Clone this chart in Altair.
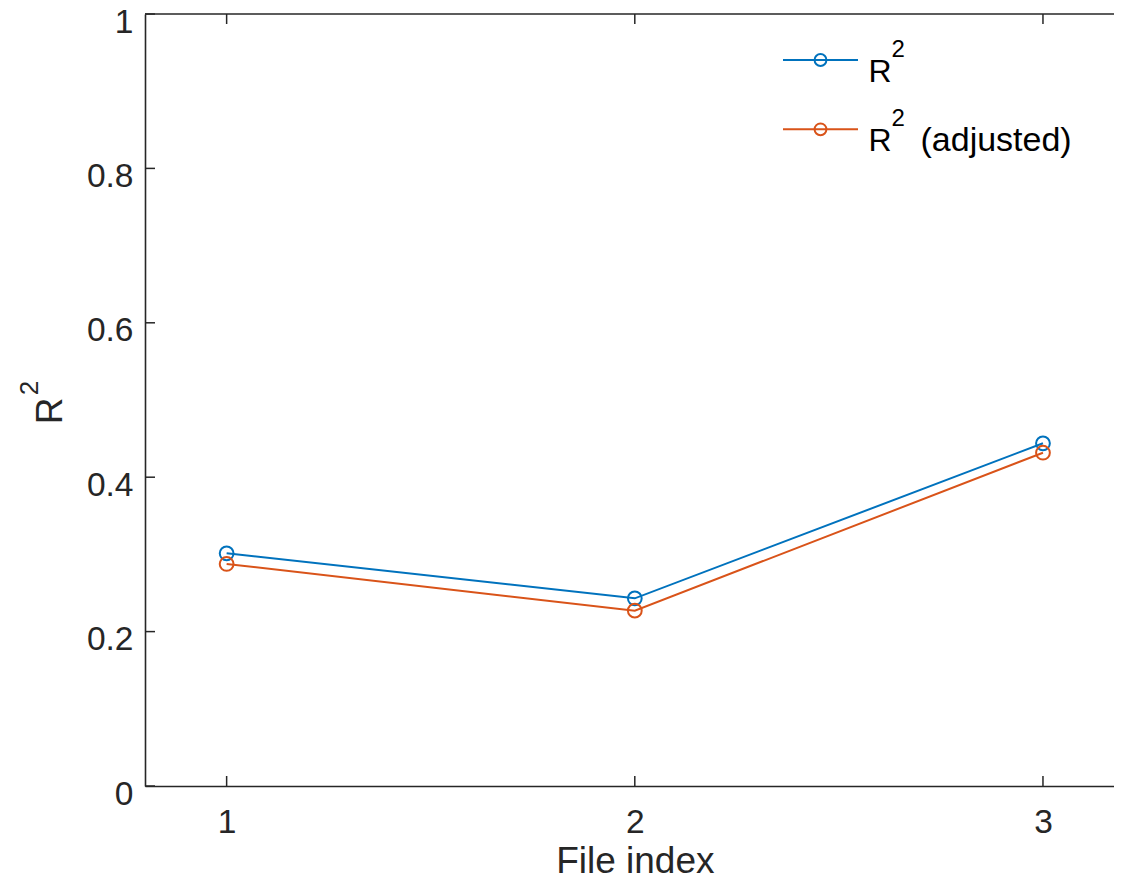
import altair as alt
import pandas as pd

# ---- data ----
file_index = [1, 2, 3]
r2_values = [0.3014, 0.2431, 0.4439]
r2_adj_values = [0.2876, 0.2271, 0.4317]
series_names = ["R2", "R2 (adjusted)"]
series_colors = ["#0072BD", "#D95319"]
x_ticks = [1, 2, 3]
y_ticks = [0, 0.2, 0.4, 0.6, 0.8, 1]

# ---- styling ----
W = 969
H = 772
XR = 979.6
FONT = "Liberation Sans"
INK = "#262626"
TICK = 10

df = pd.DataFrame({
    "file": file_index * 2,
    "value": r2_values + r2_adj_values,
    "series": [series_names[0]] * len(file_index) + [series_names[1]] * len(file_index),
})
xt = pd.DataFrame({"file": x_ticks})
yt = pd.DataFrame({"value": y_ticks})
one = pd.DataFrame({"k": [0]})

xscale = alt.Scale(domain=[0.8, 3.2], range=[0, XR], nice=False, zero=False)
yscale = alt.Scale(domain=[0, 1], nice=False, zero=False)

x_enc = alt.X("file:Q", scale=xscale,
              axis=alt.Axis(values=x_ticks, format="d", title="File index",
                            labelPadding=20.5, titlePadding=4))
y_enc = alt.Y("value:Q", scale=yscale,
              axis=alt.Axis(values=y_ticks, format=".1~f", title=None,
                            labelPadding=12, labelOffset=8))
color = alt.Color("series:N", scale=alt.Scale(domain=series_names, range=series_colors), legend=None)

lines = alt.Chart(df).mark_line(strokeWidth=2).encode(x=x_enc, y=y_enc, color=color)
points = alt.Chart(df).mark_point(shape="circle", filled=False, size=190, strokeWidth=2, opacity=1).encode(
    x=x_enc, y=y_enc, color=color)

tick_style = dict(color=INK, strokeWidth=1.5)
bottom_ticks = alt.Chart(xt).mark_rule(**tick_style).encode(x=x_enc, y=alt.value(H), y2=alt.value(H - TICK))
top_ticks = alt.Chart(xt).mark_rule(**tick_style).encode(x=x_enc, y=alt.value(0), y2=alt.value(TICK))
left_ticks = alt.Chart(yt).mark_rule(**tick_style).encode(y=y_enc, x=alt.value(0), x2=alt.value(TICK))
top_border = alt.Chart(one).mark_rule(color=INK, strokeWidth=1.6).encode(
    x=alt.value(0), x2=alt.value(XR), y=alt.value(0))

# ---- y-axis title R^2 (rotated) ----
ytitle_r = alt.Chart(one).mark_text(text="R", font=FONT, fontSize=37, color=INK, angle=270,
                                    align="center", baseline="alphabetic").encode(
    x=alt.value(-83), y=alt.value(397))
ytitle_2 = alt.Chart(one).mark_text(text="2", font=FONT, fontSize=26, color=INK, angle=270,
                                    align="center", baseline="alphabetic").encode(
    x=alt.value(-107), y=alt.value(374))

# ---- legend ----
leg_layers = []
rows = [(46, series_colors[0], ""), (115.3, series_colors[1], "(adjusted)")]
for ry, col, extra in rows:
    leg_layers.append(alt.Chart(one).mark_rule(color=col, strokeWidth=2).encode(
        x=alt.value(638), x2=alt.value(713), y=alt.value(ry)))
    leg_layers.append(alt.Chart(one).mark_point(shape="circle", filled=False, size=140, strokeWidth=2,
                                                color=col, opacity=1).encode(
        x=alt.value(675.5), y=alt.value(ry)))
    leg_layers.append(alt.Chart(one).mark_text(text="R", font=FONT, fontSize=32, color="#000000",
                                               align="left", baseline="alphabetic").encode(
        x=alt.value(723.5), y=alt.value(ry + 21.7)))
    leg_layers.append(alt.Chart(one).mark_text(text="2", font=FONT, fontSize=24, color="#000000",
                                               align="left", baseline="alphabetic").encode(
        x=alt.value(746.5), y=alt.value(ry - 3.3)))
    if extra:
        leg_layers.append(alt.Chart(one).mark_text(text=extra, font=FONT, fontSize=34, color="#000000",
                                                   align="left", baseline="alphabetic").encode(
            x=alt.value(775.5), y=alt.value(ry + 21.7)))

chart = alt.layer(
    lines, points, bottom_ticks, top_ticks, left_ticks, top_border,
    ytitle_r, ytitle_2, *leg_layers
).properties(
    width=W, height=H,
    autosize=alt.AutoSizeParams(type="none"),
    padding={"left": 137, "top": 6, "right": 0, "bottom": 88},
).configure_view(
    stroke=None
).configure_axis(
    grid=False, domainColor=INK, domainWidth=1.6, tickSize=0,
    labelFont=FONT, labelFontSize=33.5, labelColor=INK,
    titleFont=FONT, titleFontSize=37, titleColor=INK, titleFontWeight="normal",
)

chart.save("out.html", embed_options={"renderer": "svg", "actions": False})
